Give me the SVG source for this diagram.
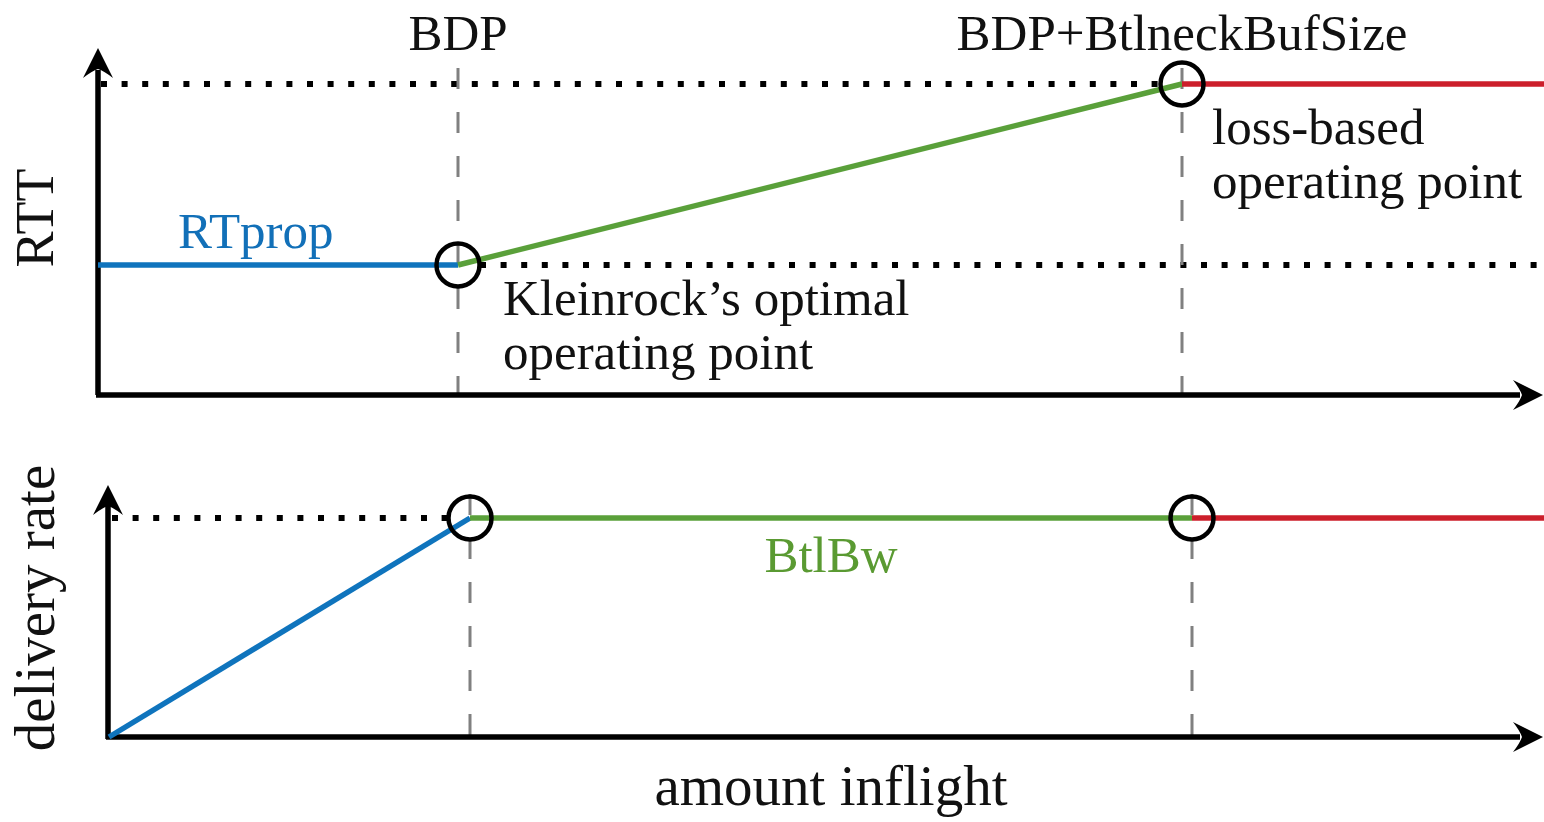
<svg xmlns="http://www.w3.org/2000/svg" width="1544" height="822" viewBox="0 0 1544 822">
  <style>
    .lbl { font-family: "Liberation Serif", "Times New Roman", serif; font-size: 51px; fill: #111; }
    .axlbl { font-family: "Liberation Serif", "Times New Roman", serif; fill: #111; }
    .axis { stroke: #000; stroke-width: 5.5; fill: none; }
    .dots { stroke: #000; stroke-width: 6; stroke-dasharray: 6 14.6; fill: none; }
    .guide { stroke: #808080; stroke-width: 3; stroke-dasharray: 21 23; fill: none; }
    .blue { stroke: #0f74bd; stroke-width: 5.5; fill: none; }
    .green { stroke: #5aa03a; stroke-width: 5.5; fill: none; }
    .red { stroke: #cc1f2b; stroke-width: 5.5; fill: none; }
    .pt { stroke: #000; stroke-width: 4.5; fill: none; }
    .head { fill: #000; }
  </style>
  <defs>
    <path id="arrowhead" d="M0,0 L-30,-15 Q-23,-6 -21,0 Q-23,6 -30,15 Z"/>
  </defs>
  <rect width="1544" height="822" fill="#fff"/>

  <!-- upper panel: RTT against amount inflight -->
  <g id="rtt-panel">
    <g id="rtt-guides">
      <line class="dots" x1="101" y1="84" x2="1165" y2="84"/>
      <line class="dots" x1="480" y1="265" x2="1544" y2="265"/>
      <line class="guide" x1="458" y1="68" x2="458" y2="395"/>
      <line class="guide" x1="1182" y1="68" x2="1182" y2="395"/>
    </g>
    <g id="rtt-axes">
      <line class="axis" x1="98" y1="395" x2="98" y2="70"/>
      <use href="#arrowhead" class="head" transform="translate(98,48) rotate(-90)"/>
      <line class="axis" x1="96" y1="395" x2="1520" y2="395"/>
      <use href="#arrowhead" class="head" transform="translate(1543,395)"/>
    </g>
    <g id="rtt-curve">
      <line class="blue" x1="98" y1="265" x2="458" y2="265"/>
      <line class="green" x1="458" y1="265" x2="1182" y2="84"/>
      <line class="red" x1="1182" y1="84" x2="1544" y2="84"/>
    </g>
    <g id="kleinrock-point">
      <circle class="pt" cx="458" cy="265" r="21.5"/>
      <text class="lbl" x="503" y="315">Kleinrock’s optimal</text>
      <text class="lbl" x="503" y="369">operating point</text>
    </g>
    <g id="loss-point">
      <circle class="pt" cx="1182" cy="84" r="21.5"/>
      <text class="lbl" x="1212" y="144">loss-based</text>
      <text class="lbl" x="1212" y="198">operating point</text>
    </g>
    <g id="rtt-labels">
      <text class="lbl" x="458" y="50" text-anchor="middle">BDP</text>
      <text class="lbl" x="1182" y="50" text-anchor="middle">BDP+BtlneckBufSize</text>
      <text class="lbl" x="178" y="248" style="fill:#1270b8">RTprop</text>
      <text class="axlbl" font-size="54" transform="translate(53,218) rotate(-90)" text-anchor="middle">RTT</text>
    </g>
  </g>

  <!-- lower panel: delivery rate against amount inflight -->
  <g id="rate-panel">
    <g id="rate-guides">
      <line class="dots" x1="112" y1="518" x2="452" y2="518"/>
      <line class="guide" x1="470" y1="494" x2="470" y2="737"/>
      <line class="guide" x1="1192" y1="494" x2="1192" y2="737"/>
    </g>
    <g id="rate-axes">
      <line class="axis" x1="108" y1="739" x2="108" y2="505"/>
      <use href="#arrowhead" class="head" transform="translate(108,485) rotate(-90)"/>
      <line class="axis" x1="106" y1="737" x2="1520" y2="737"/>
      <use href="#arrowhead" class="head" transform="translate(1543,737)"/>
    </g>
    <g id="rate-curve">
      <line class="blue" x1="109" y1="737" x2="470" y2="518"/>
      <line class="green" x1="470" y1="518" x2="1192" y2="518"/>
      <line class="red" x1="1192" y1="518" x2="1544" y2="518"/>
    </g>
    <g id="bdp-point">
      <circle class="pt" cx="470" cy="518" r="21.5"/>
    </g>
    <g id="buffer-point">
      <circle class="pt" cx="1192" cy="518" r="21.5"/>
    </g>
    <g id="rate-labels">
      <text class="lbl" x="831" y="572" text-anchor="middle" style="fill:#5a9a32">BtlBw</text>
      <text class="axlbl" font-size="57" transform="translate(54,608) rotate(-90)" text-anchor="middle">delivery rate</text>
      <text class="axlbl" font-size="57" x="831" y="805" text-anchor="middle">amount inflight</text>
    </g>
  </g>
</svg>
